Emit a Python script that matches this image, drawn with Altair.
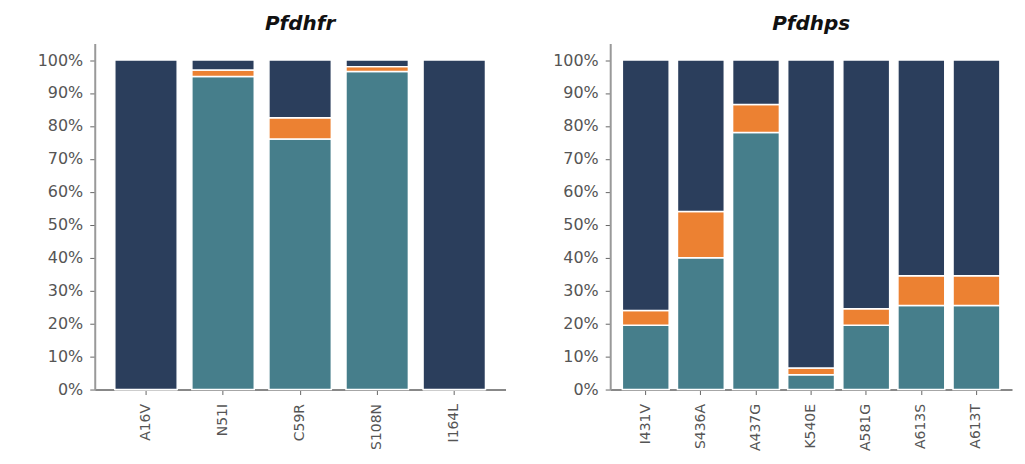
import altair as alt
import pandas as pd

# Pfdhfr panel
dhfr_mut = ["A16V", "N51I", "C59R", "S108N", "I164L"]
dhfr_teal = [0.0, 95.0, 76.0, 96.5, 0.0]
dhfr_orange = [0.0, 2.0, 6.5, 1.5, 0.0]
dhfr_navy = [100.0, 3.0, 17.5, 2.0, 100.0]

# Pfdhps panel
dhps_mut = ["I431V", "S436A", "A437G", "K540E", "A581G", "A613S", "A613T"]
dhps_teal = [19.5, 40.0, 78.0, 4.5, 19.5, 25.5, 25.5]
dhps_orange = [4.5, 14.0, 8.5, 2.0, 5.0, 9.0, 9.0]
dhps_navy = [76.0, 46.0, 13.5, 93.5, 75.5, 65.5, 65.5]

groups = ["teal", "orange", "navy"]
colors = ["#467e8b", "#ec8132", "#2b3e5c"]
y_ticks = [i / 10 for i in range(11)]


def make_df(muts, teal, orange, navy):
    rows = []
    for i, m in enumerate(muts):
        for k, (g, v) in enumerate(zip(groups, [teal[i], orange[i], navy[i]])):
            rows.append({"mut": m, "grp": g, "val": v / 100.0, "ord": k})
    return pd.DataFrame(rows)


def panel(df, muts, title, width, pad_in, pad_out, extent):
    return alt.Chart(df, title=alt.TitleParams(
        title, fontSize=20, fontWeight="bold", fontStyle="italic",
        font="DejaVu Sans", color="#111", offset=10, anchor="middle")
    ).mark_bar(stroke="white", strokeWidth=1.5).encode(
        x=alt.X("mut:N", sort=muts, title=None,
                scale=alt.Scale(paddingInner=pad_in, paddingOuter=pad_out),
                axis=alt.Axis(labelAngle=-90, labelFontSize=14, labelColor="#555",
                              labelFont="DejaVu Sans", tickSize=5, tickColor="#666",
                              labelPadding=9, domainColor="#888", domainWidth=2)),
        y=alt.Y("val:Q", stack="zero", title=None,
                scale=alt.Scale(domain=[0, 1.05], nice=False),
                axis=alt.Axis(values=y_ticks, format=".0%", grid=False,
                              labelFontSize=16, labelColor="#555", labelFont="DejaVu Sans",
                              tickSize=5, tickColor="#666", labelPadding=7,
                              domainColor="#999", domainWidth=2,
                              minExtent=extent, maxExtent=extent)),
        color=alt.Color("grp:N", scale=alt.Scale(domain=groups, range=colors), legend=None),
        order=alt.Order("ord:Q"),
    ).properties(width=width, height=347)


left = panel(make_df(dhfr_mut, dhfr_teal, dhfr_orange, dhfr_navy), dhfr_mut,
             "Pfdhfr", 412, 0.19, 0.26, 82)
right = panel(make_df(dhps_mut, dhps_teal, dhps_orange, dhps_navy), dhps_mut,
              "Pfdhps", 403, 0.15, 0.22, 60)

chart = alt.hconcat(left, right, spacing=45).properties(
    padding={"left": 5, "top": 5, "right": 5, "bottom": 5}
).configure(background="white").configure_view(strokeWidth=0)

chart.save("out.html", embed_options={"renderer": "svg", "actions": False})
